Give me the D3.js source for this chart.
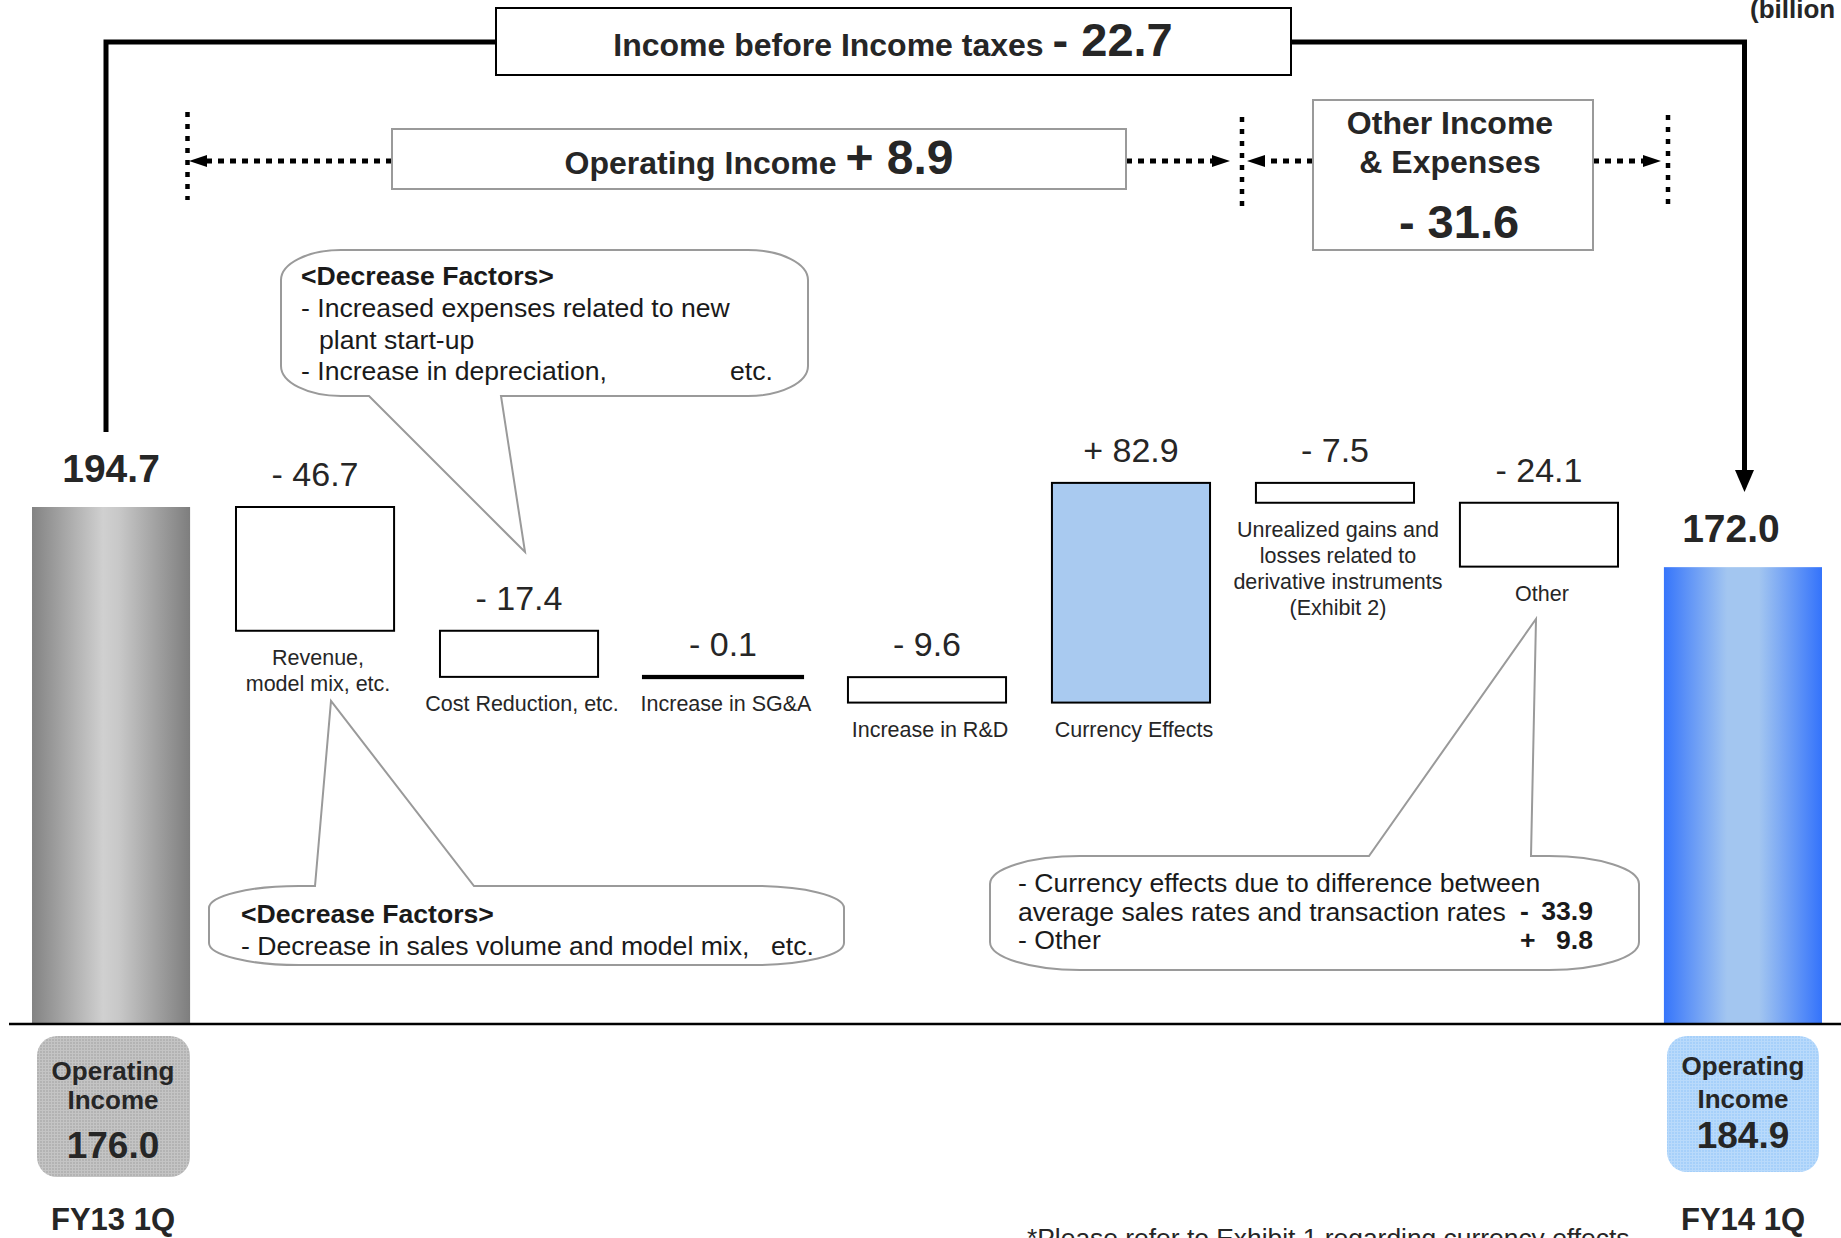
<!DOCTYPE html>
<html>
<head>
<meta charset="utf-8">
<script src="https://cdn.jsdelivr.net/npm/d3@7"></script>
<style>
  html, body { margin: 0; padding: 0; background: #fff; overflow: hidden; }
  svg { display: block; font-family: "Liberation Sans", Arial, sans-serif; }
</style>
</head>
<body>
<svg id="chart" width="1841" height="1238"></svg>
<script>
// ---------------- DATA ----------------
const categories = ["FY13 1Q", "Revenue", "Cost Reduction", "SG&A", "R&D", "Currency", "Unrealized", "Other", "FY14 1Q"];
const categoryLabels = [
  [],
  ["Revenue,", "model mix, etc."],
  ["Cost Reduction, etc."],
  ["Increase in SG&A"],
  ["Increase in R&D"],
  ["Currency Effects"],
  ["Unrealized gains and", "losses related to", "derivative instruments", "(Exhibit 2)"],
  ["Other"],
  []
];
const startValue = 194.7;
const endValue = 172.0;
const deltas = [null, -46.7, -17.4, -0.1, -9.6, 82.9, -7.5, -24.1, null];
const valueLabels = ["194.7", "- 46.7", "- 17.4", "- 0.1", "- 9.6", "+ 82.9", "- 7.5", "- 24.1", "172.0"];

const periodLabels = ["FY13 1Q", "FY14 1Q"];
const operatingIncome = ["176.0", "184.9"];
const incomeBeforeTaxChange = "- 22.7";
const operatingIncomeChange = "+ 8.9";
const otherIncomeChange = "- 31.6";

const calloutTop = ["<Decrease Factors>", "- Increased expenses related to new", "plant start-up", "- Increase in depreciation,"];
const calloutBottomLeft = ["<Decrease Factors>", "- Decrease in sales volume and model mix,"];
const calloutRight = ["- Currency effects due to difference between", "average sales rates and transaction rates", "- Other"];
const calloutRightValues = [["-", "33.9"], ["+", "9.8"]];

// ---------------- SETUP ----------------
const svg = d3.select("#chart");
const FONT_TXT = "#262626";
const defs = svg.append("defs");

// gradients for total bars
const gGray = defs.append("linearGradient").attr("id", "gradGray").attr("x1", "0%").attr("x2", "100%");
[["0%", "#838383"], ["45%", "#d0d0d0"], ["55%", "#c8c8c8"], ["100%", "#7e7e7e"]].forEach(s =>
  gGray.append("stop").attr("offset", s[0]).attr("stop-color", s[1]));
const gBlue = defs.append("linearGradient").attr("id", "gradBlue").attr("x1", "0%").attr("x2", "100%");
[["0%", "#3675fb"], ["40%", "#a3c6f0"], ["60%", "#a3c6f0"], ["100%", "#3473fb"]].forEach(s =>
  gBlue.append("stop").attr("offset", s[0]).attr("stop-color", s[1]));

function makePattern(id, base, light) {
  const p = defs.append("pattern").attr("id", id).attr("width", 3).attr("height", 3)
    .attr("patternUnits", "userSpaceOnUse");
  p.append("rect").attr("width", 3).attr("height", 3).attr("fill", base);
  p.append("rect").attr("width", 3).attr("height", 1).attr("fill", light);
  p.append("rect").attr("width", 1).attr("height", 3).attr("fill", light);
}
makePattern("patGray", "#b3b3b3", "#c4c4c4");
makePattern("patBlue", "#a6d0fa", "#b9dafb");

// scales
const x = d3.scaleBand().domain(categories).range([32, 1822]).paddingInner(0.225).paddingOuter(0);
const y = d3.scaleLinear().domain([0, startValue]).range([1023, 507]);

// compute waterfall segments
let running = startValue;
const segs = categories.map((c, i) => {
  if (i === 0) return { c, i, a: 0, b: startValue, total: true };
  if (i === categories.length - 1) return { c, i, a: 0, b: endValue, total: true };
  const a = running, b = running + deltas[i];
  running = b;
  return { c, i, a, b, total: false, d: deltas[i] };
});

// ---------------- BARS ----------------
const bars = svg.append("g");
bars.selectAll("rect").data(segs).join("rect")
  .attr("x", d => x(d.c))
  .attr("width", x.bandwidth())
  .attr("y", d => y(Math.max(d.a, d.b)))
  .attr("height", d => Math.abs(y(d.a) - y(d.b)))
  .attr("fill", d => d.total ? (d.i === 0 ? "url(#gradGray)" : "url(#gradBlue)") : (d.d > 0 ? "#a9caf0" : "#fff"))
  .attr("stroke", d => d.total ? "none" : "#000")
  .attr("stroke-width", d => d.total ? 0 : (Math.abs(d.d) < 1 ? 4 : 2));

// value labels
svg.append("g").selectAll("text").data(segs).join("text")
  .attr("x", d => x(d.c) + x.bandwidth() / 2 - (d.i === categories.length - 1 ? 12 : 0))
  .attr("y", d => y(Math.max(d.a, d.b)) - (d.total ? 25 : 21))
  .attr("text-anchor", "middle")
  .attr("font-size", d => d.total ? 39 : 34)
  .attr("font-weight", d => d.total ? "bold" : "normal")
  .attr("fill", FONT_TXT)
  .text((d, i) => valueLabels[i]);

// category labels
const catG = svg.append("g");
segs.forEach(d => {
  const lines = categoryLabels[d.i];
  if (!lines.length) return;
  const t = catG.append("text")
    .attr("text-anchor", "middle")
    .attr("font-size", 21.5)
    .attr("fill", FONT_TXT);
  lines.forEach((ln, k) => {
    t.append("tspan")
      .attr("x", x(d.c) + x.bandwidth() / 2 + 3)
      .attr("y", y(Math.min(d.a, d.b)) + 34 + k * 26)
      .text(ln);
  });
});

// baseline axis
svg.append("line").attr("x1", 9).attr("x2", 1841).attr("y1", y(0) + 1).attr("y2", y(0) + 1)
  .attr("stroke", "#000").attr("stroke-width", 2.5);

// ---------------- INCOME BEFORE TAX BRACKET ----------------
svg.append("path").attr("d", "M106,432 V42 H1744.5 V474")
  .attr("fill", "none").attr("stroke", "#000").attr("stroke-width", 5);
svg.append("path").attr("d", "M1735,470 L1754,470 L1744.5,492 Z").attr("fill", "#000");

svg.append("rect").attr("x", 496).attr("y", 8).attr("width", 795).attr("height", 67)
  .attr("fill", "#fff").attr("stroke", "#000").attr("stroke-width", 2);
const t1 = svg.append("text").attr("x", 893).attr("y", 56).attr("text-anchor", "middle")
  .attr("font-weight", "bold").attr("fill", FONT_TXT);
t1.append("tspan").attr("font-size", 32).text("Income before Income taxes ");
t1.append("tspan").attr("font-size", 47).text(incomeBeforeTaxChange);

// ---------------- DOTTED BRACKETS ----------------
const dotted = svg.append("g").attr("stroke", "#000").attr("fill", "none");
[[187.5, 112, 200], [1242, 117, 206], [1668, 115, 204]].forEach(v =>
  dotted.append("line").attr("x1", v[0]).attr("x2", v[0]).attr("y1", v[1]).attr("y2", v[2])
    .attr("stroke-width", 4.5).attr("stroke-dasharray", "5,7"));
[[392, 205], [1126, 1214], [1313, 1262], [1593, 1645]].forEach(h =>
  dotted.append("line").attr("x1", h[0]).attr("x2", h[1]).attr("y1", 161).attr("y2", 161)
    .attr("stroke-width", 5).attr("stroke-dasharray", "6,6"));
const ah = svg.append("g").attr("fill", "#000");
ah.append("path").attr("d", "M189,161 L207,155 L207,167 Z");
ah.append("path").attr("d", "M1230,161 L1212,155 L1212,167 Z");
ah.append("path").attr("d", "M1247,161 L1265,155 L1265,167 Z");
ah.append("path").attr("d", "M1661,161 L1643,155 L1643,167 Z");

svg.append("rect").attr("x", 392).attr("y", 129).attr("width", 734).attr("height", 60)
  .attr("fill", "#fff").attr("stroke", "#9a9a9a").attr("stroke-width", 2);
const t2 = svg.append("text").attr("x", 759).attr("y", 174).attr("text-anchor", "middle")
  .attr("font-weight", "bold").attr("fill", FONT_TXT);
t2.append("tspan").attr("font-size", 32).text("Operating Income ");
t2.append("tspan").attr("font-size", 48).text(operatingIncomeChange);

svg.append("rect").attr("x", 1313).attr("y", 100).attr("width", 280).attr("height", 150)
  .attr("fill", "#fff").attr("stroke", "#9a9a9a").attr("stroke-width", 2);
const t3 = svg.append("text").attr("text-anchor", "middle").attr("font-weight", "bold").attr("fill", FONT_TXT);
t3.append("tspan").attr("x", 1450).attr("y", 134).attr("font-size", 32).text("Other Income");
t3.append("tspan").attr("x", 1450).attr("y", 173).attr("font-size", 32).text("& Expenses");
t3.append("tspan").attr("x", 1459).attr("y", 238).attr("font-size", 47).text(otherIncomeChange);

// ---------------- CALLOUTS ----------------
function calloutPath(x0, y0, x1, y1, rx, ry, tail) {
  const p = d3.path();
  p.moveTo(x0 + rx, y0);
  if (tail.side === "top") {
    p.lineTo(tail.a, y0); p.lineTo(tail.tx, tail.ty); p.lineTo(tail.b, y0);
  }
  p.lineTo(x1 - rx, y0);
  let s = p.toString();
  s += ` A${rx},${ry} 0 0 1 ${x1},${y0 + ry} V${y1 - ry} A${rx},${ry} 0 0 1 ${x1 - rx},${y1}`;
  if (tail.side === "bottom") {
    s += ` L${tail.b},${y1} L${tail.tx},${tail.ty} L${tail.a},${y1}`;
  }
  s += ` L${x0 + rx},${y1} A${rx},${ry} 0 0 1 ${x0},${y1 - ry} V${y0 + ry} A${rx},${ry} 0 0 1 ${x0 + rx},${y0} Z`;
  return s;
}
const cg = svg.append("g");
cg.append("path").attr("d", calloutPath(281, 250, 808, 396, 60, 30, { side: "bottom", a: 369, b: 501, tx: 525, ty: 552 }))
  .attr("fill", "#fff").attr("stroke", "#9a9a9a").attr("stroke-width", 2);
cg.append("path").attr("d", calloutPath(209, 886, 844, 965, 90, 22, { side: "top", a: 315, b: 474, tx: 331, ty: 701 }))
  .attr("fill", "#fff").attr("stroke", "#9a9a9a").attr("stroke-width", 2);
cg.append("path").attr("d", calloutPath(990, 856, 1639, 970, 90, 28, { side: "top", a: 1369, b: 1531, tx: 1536, ty: 619 }))
  .attr("fill", "#fff").attr("stroke", "#9a9a9a").attr("stroke-width", 2);

// callout texts
const ct = svg.append("g").attr("fill", "#1a1a1a").attr("font-size", 26.6);
ct.append("text").attr("x", 301).attr("y", 285).attr("font-weight", "bold").text(calloutTop[0]);
ct.append("text").attr("x", 301).attr("y", 317).text(calloutTop[1]);
ct.append("text").attr("x", 319).attr("y", 349).text(calloutTop[2]);
ct.append("text").attr("x", 301).attr("y", 380).text(calloutTop[3]);
ct.append("text").attr("x", 730).attr("y", 380).text("etc.");

ct.append("text").attr("x", 241).attr("y", 923).attr("font-weight", "bold").text(calloutBottomLeft[0]);
ct.append("text").attr("x", 241).attr("y", 955).text(calloutBottomLeft[1]);
ct.append("text").attr("x", 771).attr("y", 955).text("etc.");

calloutRight.forEach((ln, k) =>
  ct.append("text").attr("x", 1018).attr("y", 892 + k * 28.5).text(ln));
calloutRightValues.forEach((v, k) => {
  ct.append("text").attr("x", 1520).attr("y", 920 + k * 28.5).attr("font-weight", "bold").text(v[0]);
  ct.append("text").attr("x", 1593).attr("y", 920 + k * 28.5).attr("font-weight", "bold")
    .attr("text-anchor", "end").text(v[1]);
});

// ---------------- BOTTOM OPERATING INCOME BOXES ----------------
const boxes = [
  { x: 37, y: 1036, w: 153, h: 141, fill: "url(#patGray)", cx: 113, ys: [1080, 1109, 1158] },
  { x: 1667, y: 1036, w: 152, h: 136, fill: "url(#patBlue)", cx: 1743, ys: [1075, 1108, 1148] }
];
boxes.forEach((b, i) => {
  svg.append("rect").attr("x", b.x).attr("y", b.y).attr("width", b.w).attr("height", b.h)
    .attr("rx", 20).attr("ry", 20).attr("fill", b.fill);
  const t = svg.append("text").attr("text-anchor", "middle").attr("font-weight", "bold").attr("fill", FONT_TXT);
  t.append("tspan").attr("x", b.cx).attr("y", b.ys[0]).attr("font-size", 26).text("Operating");
  t.append("tspan").attr("x", b.cx).attr("y", b.ys[1]).attr("font-size", 26).text("Income");
  t.append("tspan").attr("x", b.cx).attr("y", b.ys[2]).attr("font-size", 37).text(operatingIncome[i]);
  svg.append("text").attr("x", b.cx).attr("y", 1230).attr("text-anchor", "middle")
    .attr("font-weight", "bold").attr("font-size", 31).attr("fill", FONT_TXT).text(periodLabels[i]);
});

// footnote and unit
svg.append("text").attr("x", 1027).attr("y", 1247).attr("font-size", 26.4).attr("fill", FONT_TXT)
  .text("*Please refer to Exhibit 1 regarding currency effects");
svg.append("text").attr("x", 1750).attr("y", 18).attr("font-size", 26).attr("font-weight", "bold")
  .attr("fill", FONT_TXT).text("(billion yen)");
</script>
</body>
</html>
